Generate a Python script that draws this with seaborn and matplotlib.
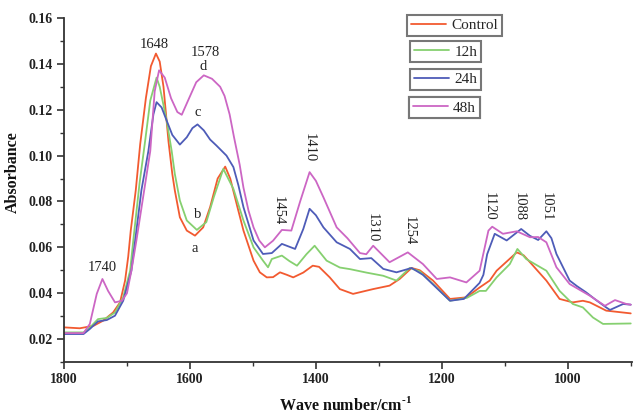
import matplotlib
matplotlib.use("Agg")
import matplotlib.pyplot as plt
from matplotlib.ticker import MultipleLocator
from matplotlib.lines import Line2D
import seaborn as sns
import pandas as pd

# ---------------- data ----------------
series_names = ["Control", "12h", "24h", "48h"]

control_w = [1800, 1775, 1753, 1738, 1722, 1711, 1703, 1698, 1694, 1686, 1679, 1670, 1662, 1654,
             1648, 1642, 1634, 1628, 1624, 1616, 1605, 1592, 1579, 1568, 1556, 1544, 1536, 1525,
             1515, 1499, 1489, 1478, 1468, 1457, 1446, 1436, 1420, 1405, 1395, 1378, 1362, 1341,
             1309, 1283, 1267, 1248, 1235, 1214, 1187, 1161, 1140, 1124, 1113, 1081, 1070, 1060,
             1034, 1013, 992, 976, 965, 939, 900]
control_a = [0.0251, 0.0247, 0.0258, 0.0280, 0.0316, 0.0360, 0.0455, 0.0560, 0.0673, 0.0850,
             0.1050, 0.1250, 0.1390, 0.1445, 0.1410, 0.1300, 0.1060, 0.0920, 0.0848, 0.0731,
             0.0673, 0.0651, 0.0687, 0.0775, 0.0900, 0.0952, 0.0900, 0.0780, 0.0673, 0.0542,
             0.0491, 0.0469, 0.0470, 0.0491, 0.0480, 0.0469, 0.0490, 0.0520, 0.0515, 0.0469,
             0.0418, 0.0397, 0.0418, 0.0433, 0.0462, 0.0510, 0.0500, 0.0455, 0.0375, 0.0382,
             0.0425, 0.0455, 0.0498, 0.0578, 0.0565, 0.0535, 0.0455, 0.0375, 0.0360, 0.0367,
             0.0360, 0.0324, 0.0312]

h12_w = [1800, 1769, 1759, 1746, 1732, 1719, 1706, 1695, 1690, 1680, 1671, 1663, 1653, 1648,
         1637, 1629, 1624, 1616, 1605, 1589, 1574, 1562, 1547, 1531, 1515, 1499, 1484, 1476,
         1470, 1454, 1442, 1430, 1415, 1402, 1383, 1362, 1346, 1320, 1293, 1272, 1251, 1235,
         1214, 1187, 1160, 1140, 1130, 1113, 1092, 1080, 1066, 1034, 1013, 992, 976, 960, 944, 900]
h12_a = [0.0229, 0.0229, 0.0250, 0.0287, 0.0292, 0.0316, 0.0382, 0.0498, 0.0629, 0.0880,
         0.1067, 0.1240, 0.1340, 0.1300, 0.1153, 0.1020, 0.0920, 0.0804, 0.0717, 0.0676,
         0.0710, 0.0820, 0.0942, 0.0855, 0.0717, 0.0600, 0.0542, 0.0513, 0.0549, 0.0564,
         0.0540, 0.0520, 0.0570, 0.0607, 0.0542, 0.0512, 0.0505, 0.0490, 0.0476, 0.0455,
         0.0510, 0.0495, 0.0440, 0.0367, 0.0380, 0.0410, 0.0410, 0.0469, 0.0527, 0.0593,
         0.0549, 0.0498, 0.0410, 0.0353, 0.0338, 0.0294, 0.0266, 0.0268]

h24_w = [1800, 1769, 1759, 1746, 1732, 1719, 1706, 1693, 1687, 1677, 1666, 1658, 1653, 1645,
         1637, 1628, 1616, 1605, 1596, 1588, 1578, 1568, 1558, 1542, 1531, 1523, 1515, 1499,
         1484, 1470, 1454, 1433, 1420, 1410, 1400, 1388, 1367, 1346, 1330, 1312, 1293, 1272,
         1248, 1230, 1187, 1165, 1140, 1134, 1128, 1116, 1097, 1074, 1060, 1047, 1034, 1026,
         1018, 997, 985, 971, 955, 939, 933, 912, 900]
h24_a = [0.0222, 0.0222, 0.0244, 0.0277, 0.0283, 0.0302, 0.0367, 0.0498, 0.0630, 0.0850,
         0.1020, 0.1180, 0.1233, 0.1210, 0.1153, 0.1090, 0.1048, 0.1080, 0.1120, 0.1136,
         0.1110, 0.1070, 0.1044, 0.1000, 0.0950, 0.0870, 0.0775, 0.0630, 0.0571, 0.0575,
         0.0615, 0.0593, 0.0680, 0.0768, 0.0740, 0.0687, 0.0622, 0.0593, 0.0549, 0.0553,
         0.0506, 0.0491, 0.0510, 0.0480, 0.0367, 0.0375, 0.0445, 0.0480, 0.0570, 0.0659,
         0.0630, 0.0680, 0.0650, 0.0632, 0.0670, 0.0640, 0.0571, 0.0455, 0.0430, 0.0404,
         0.0370, 0.0338, 0.0327, 0.0353, 0.0350]

h48_w = [1800, 1769, 1759, 1748, 1739, 1730, 1719, 1708, 1700, 1693, 1685, 1663, 1656, 1649,
         1640, 1630, 1620, 1613, 1603, 1590, 1578, 1565, 1552, 1545, 1537, 1530, 1521, 1515,
         1507, 1499, 1490, 1481, 1468, 1454, 1439, 1425, 1410, 1400, 1388, 1367, 1350, 1330,
         1320, 1309, 1283, 1254, 1230, 1208, 1187, 1161, 1140, 1126, 1120, 1103, 1081, 1060,
         1047, 1034, 1018, 997, 965, 941, 925, 907, 900]
h48_a = [0.0226, 0.0226, 0.0266, 0.0397, 0.0462, 0.0410, 0.0360, 0.0367, 0.0400, 0.0498,
         0.0630, 0.1020, 0.1280, 0.1372, 0.1340, 0.1250, 0.1190, 0.1178, 0.1240, 0.1320,
         0.1350, 0.1335, 0.1300, 0.1260, 0.1180, 0.1080, 0.0960, 0.0860, 0.0760, 0.0687,
         0.0630, 0.0600, 0.0629, 0.0676, 0.0673, 0.0800, 0.0928, 0.0890, 0.0818, 0.0687,
         0.0640, 0.0575, 0.0570, 0.0607, 0.0535, 0.0578, 0.0527, 0.0462, 0.0469, 0.0447,
         0.0498, 0.0673, 0.0690, 0.0659, 0.0670, 0.0644, 0.0645, 0.0622, 0.0513, 0.0440,
         0.0389, 0.0345, 0.0370, 0.0353, 0.0350]

colors = ["#f25a30", "#86d070", "#4e5cb8", "#cc66c4"]

# peak labels: (text, wavenumber, absorbance, rotation)
peak_labels = [("1648", 1656, 0.1485, 0), ("1578", 1576, 0.1450, 0), ("d", 1579, 0.1387, 0),
               ("c", 1587, 0.1186, 0), ("b", 1588, 0.0744, 0), ("a", 1592, 0.0595, 0),
               ("1740", 1740, 0.0512, 0), ("1454", 1460, 0.0762, -90), ("1410", 1410, 0.1033, -90),
               ("1310", 1310, 0.0687, -90), ("1254", 1251, 0.0674, -90), ("1120", 1124, 0.0778, -90),
               ("1088", 1077, 0.0778, -90), ("1051", 1034, 0.0778, -90)]

x_ticks = [1800, 1600, 1400, 1200, 1000]
y_ticks = [0.02, 0.04, 0.06, 0.08, 0.10, 0.12, 0.14, 0.16]

# ---------------- build frame ----------------
frames = []
for name, w, a in zip(series_names, [control_w, h12_w, h24_w, h48_w],
                      [control_a, h12_a, h24_a, h48_a]):
    frames.append(pd.DataFrame({"wave": w, "abs": a, "series": name}))
df = pd.concat(frames, ignore_index=True)

# ---------------- plot ----------------
sns.set_theme(style="white")
plt.rcParams["font.family"] = ["Liberation Serif", "DejaVu Serif"]
plt.rcParams["mathtext.fontset"] = "custom"
plt.rcParams["mathtext.rm"] = "Liberation Serif:bold"
plt.rcParams["mathtext.bf"] = "Liberation Serif:bold"

fig = plt.figure(figsize=(6.36, 4.13), dpi=100)
ax = fig.add_axes([64 / 636, 1 - 362 / 413, 568 / 636, 344 / 413])

sns.lineplot(data=df, x="wave", y="abs", hue="series", hue_order=series_names,
             palette=colors, estimator=None, sort=True, linewidth=1.3, legend=False, ax=ax)

ax.set_xlim(1800, 898)
ax.set_ylim(0.01, 0.16)
ax.set_xticks(x_ticks)
ax.set_xticklabels([str(t) for t in x_ticks])
ax.set_yticks(y_ticks)
ax.set_yticklabels([f"{t:.2f}" for t in y_ticks])
ax.xaxis.set_minor_locator(MultipleLocator(100))
ax.yaxis.set_minor_locator(MultipleLocator(0.01))

for s in ["top", "right"]:
    ax.spines[s].set_visible(False)
for s in ["left", "bottom"]:
    ax.spines[s].set_color("#333333")
    ax.spines[s].set_linewidth(1.3)

ax.tick_params(axis="both", which="major", direction="out", length=5, width=1.2,
               color="#333333", labelsize=10, labelcolor="#222222", pad=3,
               left=True, bottom=True)
ax.tick_params(axis="both", which="minor", direction="out", length=3, width=1.0,
               color="#333333", left=True, bottom=True)
for lab in ax.get_xticklabels() + ax.get_yticklabels():
    lab.set_fontweight("semibold")

ax.set_xlabel(r"Wave number/cm$^{\text{-1}}$", fontsize=11.5, fontweight="bold", color="#111111")
ax.set_ylabel("Absorbance", fontsize=11.5, fontweight="bold", color="#111111")
ax.xaxis.set_label_coords(0.495, -0.125)
ax.xaxis.label.set_va("center")
ax.yaxis.set_label_coords(-0.09, 0.552)
ax.yaxis.label.set_va("center")

for txt, wx, ay, rot in peak_labels:
    ax.text(wx, ay, txt, fontsize=10.5, ha="center", va="center", rotation=rot, color="#222222")

# separate legend boxes
legend_tops = [1.009, 0.933, 0.852, 0.770]
legend_lefts = [0.604, 0.609, 0.609, 0.607]
for name, col, left, top in zip(series_names, colors, legend_lefts, legend_tops):
    h = Line2D([], [], color=col, linewidth=1.3)
    leg = ax.legend([h], [name], loc="upper left", bbox_to_anchor=(left, top),
                    borderaxespad=0, fancybox=False, framealpha=1, edgecolor="#777777",
                    fontsize=11, handlelength=2.3, handletextpad=0.35, borderpad=0.25)
    leg.get_frame().set_linewidth(1.5)
    ax.add_artist(leg)

fig.savefig("out.png", dpi=100)
